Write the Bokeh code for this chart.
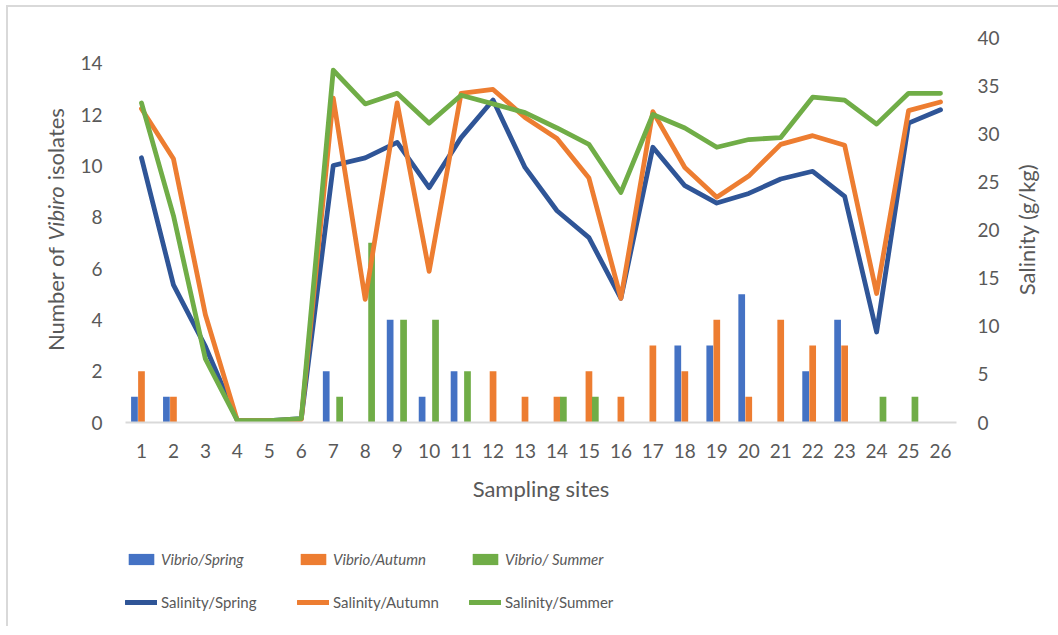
import math, os, glob, struct
from bokeh.plotting import figure
from bokeh.layouts import column
from bokeh.models import (Range1d, LinearAxis, FixedTicker, Legend, LegendItem, Label)
from bokeh.embed import file_html
from bokeh.resources import INLINE

sites = list(range(1, 27))
site_labels = [str(s) for s in sites]

vib_spring = [1, 1, 0, 0, 0, 0, 2, 0, 4, 1, 2, 0, 0, 0, 0, 0, 0, 3, 3, 5, 0, 2, 4, 0, 0, 0]
vib_autumn = [2, 1, 0, 0, 0, 0, 0, 0, 0, 0, 0, 2, 1, 1, 2, 1, 3, 2, 4, 1, 4, 3, 3, 0, 0, 0]
vib_summer = [0, 0, 0, 0, 0, 0, 1, 7, 4, 4, 2, 0, 0, 1, 1, 0, 0, 0, 0, 0, 0, 0, 0, 1, 1, 0]

sal_spring = [27.5, 14.3, 7.9, 0.2, 0.2, 0.4, 26.7, 27.5, 29.1, 24.4, 29.6, 33.5, 26.5,
              22.0, 19.2, 12.9, 28.6, 24.6, 22.8, 23.8, 25.3, 26.1, 23.5, 9.4, 31.1, 32.5]
sal_autumn = [32.6, 27.4, 11.2, 0.2, 0.2, 0.3, 33.7, 12.8, 33.2, 15.7, 34.2, 34.6, 31.7,
              29.5, 25.4, 12.9, 32.3, 26.5, 23.4, 25.6, 28.9, 29.8, 28.8, 13.4, 32.4, 33.3]
sal_summer = [33.2, 21.5, 6.6, 0.2, 0.2, 0.4, 36.6, 33.1, 34.2, 31.1, 34.0, 33.1, 32.2,
              30.6, 28.9, 23.9, 32.0, 30.6, 28.6, 29.4, 29.6, 33.8, 33.5, 31.0, 34.2, 34.2]

left_ticks = [0, 2, 4, 6, 8, 10, 12, 14]
right_ticks = [0, 5, 10, 15, 20, 25, 30, 35, 40]

C_SPRING_BAR = "#4472C4"
C_SPRING_LINE = "#2F5597"
C_AUTUMN = "#ED7D31"
C_SUMMER = "#70AD47"
TXT = "#595959"
FONT = "Lato"


# ---- text width measurement from the installed font files (for placing title pieces) ----
def _find_font(name):
    roots = ["/usr/share/fonts", "/usr/local/share/fonts",
             os.path.expanduser("~/.fonts"), os.path.expanduser("~/.local/share/fonts")]
    for r in roots:
        hits = glob.glob(os.path.join(r, "**", name), recursive=True)
        if hits:
            return hits[0]
    return None


def _make_measurer(fname, fallback_em=0.5):
    path = _find_font(fname)
    if path is None:
        return lambda text, size: len(text) * fallback_em * size
    try:
        data = open(path, "rb").read()
        u16 = lambda o: struct.unpack(">H", data[o:o + 2])[0]
        i16 = lambda o: struct.unpack(">h", data[o:o + 2])[0]
        u32 = lambda o: struct.unpack(">I", data[o:o + 4])[0]
        base = u32(12) if data[:4] == b"ttcf" else 0
        num = u16(base + 4)
        tabs = {}
        for i in range(num):
            rec = base + 12 + 16 * i
            tabs[data[rec:rec + 4].decode("latin1")] = u32(rec + 8)
        upem = u16(tabs["head"] + 18)
        nhm = u16(tabs["hhea"] + 34)
        hm = tabs["hmtx"]
        cm = tabs["cmap"]
        sub = None
        for i in range(u16(cm + 2)):
            pid, eid, off = u16(cm + 4 + 8 * i), u16(cm + 6 + 8 * i), u32(cm + 8 + 8 * i)
            if u16(cm + off) == 4 and (pid == 3 or pid == 0):
                sub = cm + off
                break
        segx2 = u16(sub + 6)
        ends = sub + 14
        starts = ends + segx2 + 2
        deltas = starts + segx2
        ros = deltas + segx2

        def gid(c):
            for i in range(segx2 // 2):
                if c <= u16(ends + 2 * i):
                    s = u16(starts + 2 * i)
                    if c < s:
                        return 0
                    d = i16(deltas + 2 * i)
                    ro = u16(ros + 2 * i)
                    if ro == 0:
                        return (c + d) & 0xFFFF
                    g = u16(ros + 2 * i + ro + 2 * (c - s))
                    return (g + d) & 0xFFFF if g else 0
            return 0

        def adv(g):
            g = min(g, nhm - 1)
            return u16(hm + 4 * g)

        return lambda text, size: sum(adv(gid(ord(ch))) for ch in text) * size / upem
    except Exception:
        return lambda text, size: len(text) * fallback_em * size


w_reg = _make_measurer("Lato-Regular.ttf")
w_ita = _make_measurer("Lato-Italic.ttf")

# ---------------- main chart ----------------
p = figure(frame_width=831, frame_height=385,
           min_border_left=117, min_border_right=102,
           min_border_top=30, min_border_bottom=108,
           x_range=Range1d(0.5, 26.5), y_range=Range1d(0, 15),
           output_backend="svg", toolbar_location=None)
p.extra_y_ranges = {"sal": Range1d(0, 40)}
p.xgrid.grid_line_color = None
p.ygrid.grid_line_color = None
p.outline_line_color = None

bw = 0.21
x_sp = [s - 0.22 for s in sites]
x_su = [s + 0.2 for s in sites]
p.vbar(x=x_sp, top=vib_spring, width=bw, fill_color=C_SPRING_BAR, line_color=None)
p.vbar(x=sites, top=vib_autumn, width=bw, fill_color=C_AUTUMN, line_color=None)
p.vbar(x=x_su, top=vib_summer, width=bw, fill_color=C_SUMMER, line_color=None)

lw = 4.8
p.line(sites, sal_spring, y_range_name="sal", line_color=C_SPRING_LINE, line_width=lw,
       line_join="round", line_cap="round")
p.line(sites, sal_autumn, y_range_name="sal", line_color=C_AUTUMN, line_width=lw,
       line_join="round", line_cap="round")
p.line(sites, sal_summer, y_range_name="sal", line_color=C_SUMMER, line_width=lw,
       line_join="round", line_cap="round")

xa = p.xaxis[0]
xa.ticker = FixedTicker(ticks=sites)
xa.major_label_overrides = {s: l for s, l in zip(sites, site_labels)}
xa.axis_line_color = "#d9d9d9"
xa.axis_line_width = 2
xa.major_tick_line_color = None
xa.minor_tick_line_color = None
xa.major_tick_out = 0
xa.minor_tick_out = 0
xa.major_label_text_font = FONT
xa.major_label_text_font_size = "19px"
xa.major_label_text_color = TXT
xa.major_label_standoff = 21
xa.axis_label = "Sampling sites"
xa.axis_label_text_font = FONT
xa.axis_label_text_font_size = "22px"
xa.axis_label_text_font_style = "normal"
xa.axis_label_text_color = TXT
xa.axis_label_standoff = 14

ya = p.yaxis[0]
ya.ticker = FixedTicker(ticks=left_ticks)
ya.axis_line_color = None
ya.major_tick_line_color = None
ya.minor_tick_line_color = None
ya.major_tick_out = 0
ya.minor_tick_out = 0
ya.major_label_text_font = FONT
ya.major_label_text_font_size = "19px"
ya.major_label_text_color = TXT
ya.major_label_standoff = 23

ra = LinearAxis(y_range_name="sal", ticker=FixedTicker(ticks=right_ticks))
ra.axis_line_color = None
ra.major_tick_line_color = None
ra.minor_tick_line_color = None
ra.major_tick_out = 0
ra.minor_tick_out = 0
ra.major_label_text_font = FONT
ra.major_label_text_font_size = "19px"
ra.major_label_text_color = TXT
ra.major_label_standoff = 21
p.add_layout(ra, "right")

# axis titles: rotated labels kept in side panels (not clipped to the frame)
TS = 22
FRAME_H = 385
center_off = FRAME_H / 2 + 0.5
parts = [("Number of", "normal"), ("Vibiro", "italic"), ("isolates", "normal")]
sp = w_reg(" ", TS)
widths = [w_ita(t, TS) if st == "italic" else w_reg(t, TS) for t, st in parts]
total = sum(widths) + sp * (len(parts) - 1)
start = center_off - total / 2


def title_piece(text, x, xoff, yoff, style="normal", align="left"):
    return Label(x=x, y=0, x_offset=xoff, y_offset=yoff, text=text, angle=math.pi / 2,
                 text_align=align, text_baseline="middle", text_font=FONT,
                 text_font_size=f"{TS}px", text_font_style=style, text_color=TXT)


pos = start
sides = ["left", "left", "right"]
for (t, st), w, side in zip(parts, widths, sides):
    p.add_layout(title_piece(t, 0.5, -70, pos, style=st), side)
    pos += w + sp
p.add_layout(title_piece("Salinity (g/kg)", 26.5, 70, center_off, align="center"), "right")

# ---------------- legend strip (proxy renderers hold a single NaN point) ----------------
lg = figure(width=1050, height=96, x_range=Range1d(0, 1), y_range=Range1d(0, 1),
            min_border=0, x_axis_type=None, y_axis_type=None,
            output_backend="svg", toolbar_location=None)
lg.outline_line_color = None
lg.xgrid.grid_line_color = None
lg.ygrid.grid_line_color = None
nan = float("nan")
pb1 = lg.patches(xs=[[nan]], ys=[[nan]], fill_color=C_SPRING_BAR, line_color=None)
pb2 = lg.patches(xs=[[nan]], ys=[[nan]], fill_color=C_AUTUMN, line_color=None)
pb3 = lg.patches(xs=[[nan]], ys=[[nan]], fill_color=C_SUMMER, line_color=None)
pl1 = lg.line(x=[nan], y=[nan], line_color=C_SPRING_LINE, line_width=lw, line_cap="round")
pl2 = lg.line(x=[nan], y=[nan], line_color=C_AUTUMN, line_width=lw, line_cap="round")
pl3 = lg.line(x=[nan], y=[nan], line_color=C_SUMMER, line_width=lw, line_cap="round")

common = dict(orientation="horizontal", glyph_width=32, glyph_height=14, label_standoff=4,
              label_width=136, label_height=20, spacing=0, padding=0, margin=0,
              border_line_color=None, background_fill_alpha=0, label_text_font=FONT,
              label_text_font_size="15px", label_text_color=TXT)
leg1 = Legend(items=[LegendItem(label="Vibrio/Spring", renderers=[pb1]),
                     LegendItem(label="Vibrio/Autumn", renderers=[pb2]),
                     LegendItem(label="Vibrio/ Summer", renderers=[pb3])],
              location=(0, 57), label_text_font_style="italic", **common)
leg2 = Legend(items=[LegendItem(label="Salinity/Spring", renderers=[pl1]),
                     LegendItem(label="Salinity/Autumn", renderers=[pl2]),
                     LegendItem(label="Salinity/Summer", renderers=[pl3])],
              location=(0, 14), **common)
lg.add_layout(leg1)
lg.add_layout(leg2)

layout = column(p, lg, spacing=0,
                styles={"border-left": "2px solid #d9d9d9", "border-top": "2px solid #d9d9d9",
                        "margin-left": "6px", "margin-top": "5px"})

open("out.html", "w").write(file_html(layout, INLINE))
